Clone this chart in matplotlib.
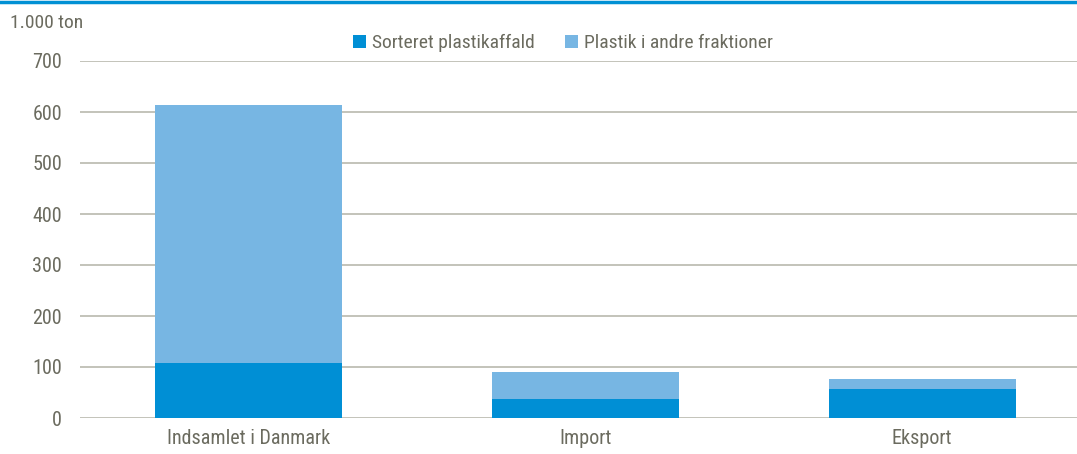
import matplotlib.pyplot as plt
import numpy as np
from matplotlib import font_manager

categories = ["Indsamlet i Danmark", "Import", "Eksport"]
sorteret = [108, 37, 56]
andre = [505, 54, 20]
labels = ["Sorteret plastikaffald", "Plastik i andre fraktioner"]

names = {f.name for f in font_manager.fontManager.ttflist}
fam, fs = "Liberation Sans", 13
for cand in ["Liberation Sans Narrow", "Arial Narrow", "Roboto Condensed"]:
    if cand in names:
        fam, fs = cand, 14
        break
plt.rcParams['font.family'] = [fam, 'DejaVu Sans']

txt = '#6b6b5f'
dark = '#008fd5'
light = '#77b6e3'

fig = plt.figure(figsize=(10.77, 4.54), dpi=100)
ax = fig.add_axes([80/1077, 36/454, 997/1077, 357/454])
x = np.arange(len(categories))
w = 0.555
ax.bar(x, sorteret, w, color=dark, label=labels[0], zorder=3)
ax.bar(x, andre, w, bottom=sorteret, color=light, label=labels[1], zorder=3)

ax.set_ylim(0, 700)
ax.set_xlim(-0.5, 2.46)
ax.set_yticks(range(0, 701, 100))
ax.set_xticks(x)
ax.set_xticklabels(categories)
ax.yaxis.grid(True, color='#b9b9ae', lw=1.2, zorder=0)
for s in ax.spines.values():
    s.set_visible(False)
ax.tick_params(length=0, labelsize=fs + 0.5, colors=txt)
ax.tick_params(axis='y', pad=13)
ax.tick_params(axis='x', pad=8)

fig.text(10/1077, 1 - 23/454, "1.000 ton", fontsize=fs, color=txt, va='center')
leg = fig.legend(loc='center', bbox_to_anchor=(563/1077, 1 - 43/454), ncol=2, frameon=False,
                 fontsize=fs, handlelength=0.65, handleheight=0.65, handletextpad=0.3,
                 columnspacing=1.6, labelcolor=txt)
fig.add_artist(plt.Line2D([0, 1], [1 - 2/454, 1 - 2/454], color='#0090d4', lw=2.5,
                          transform=fig.transFigure))

fig.savefig("out.png", dpi=100)
